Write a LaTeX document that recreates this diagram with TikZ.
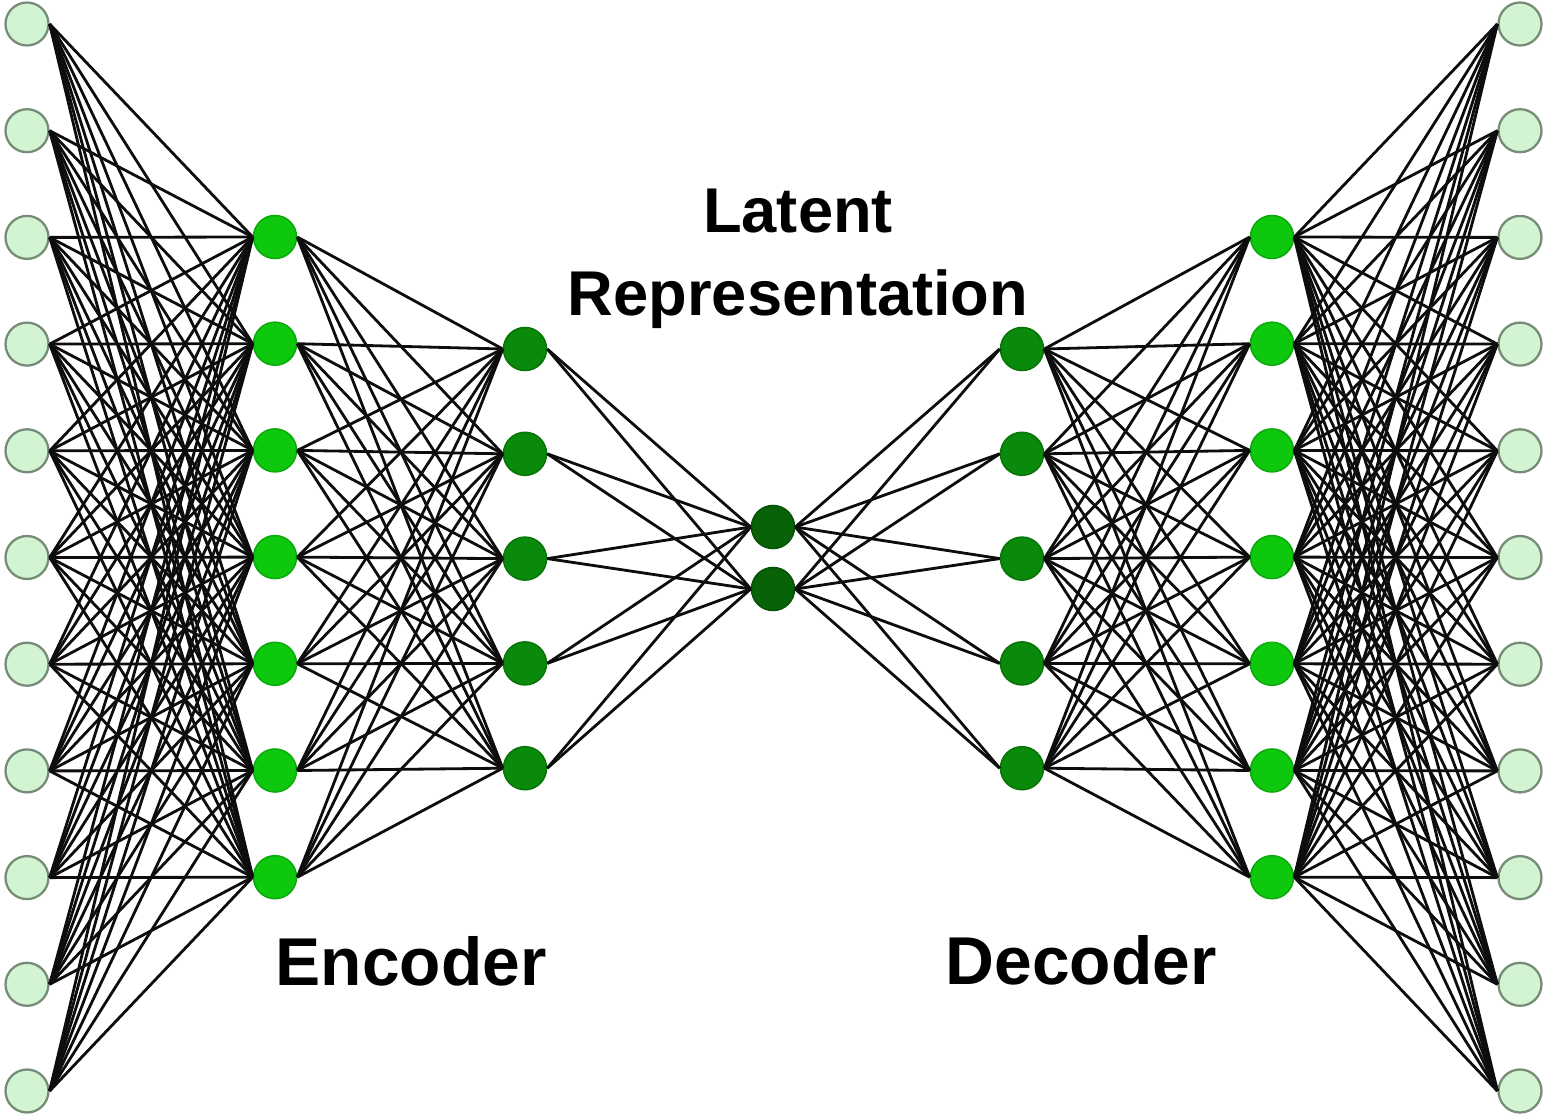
\documentclass[tikz,border=0pt]{standalone}
\usepackage{fontspec}
\setmainfont{Liberation Sans}
\usetikzlibrary{positioning}

\definecolor{inputgreen}{RGB}{210,244,210}
\definecolor{ringgray}{RGB}{118,140,118}
\definecolor{hidgreen}{RGB}{14,200,14}
\definecolor{midgreen}{RGB}{10,138,10}
\definecolor{latgreen}{RGB}{8,98,8}

\begin{document}
\begin{tikzpicture}[x=0.2mm, y=-0.2mm,
    unit/.style={circle, minimum size=8.6mm, inner sep=0pt, line width=0.9pt},
    inunit/.style={unit, draw=ringgray, fill=inputgreen, line width=1.3pt},
    hidunit/.style={unit, draw=hidgreen!85!black, fill=hidgreen},
    midunit/.style={unit, draw=midgreen!85!black, fill=midgreen},
    latunit/.style={unit, draw=latgreen!85!black, fill=latgreen},
    link/.style={line width=1.6pt, black!95},
    title/.style={font=\bfseries\fontsize{36}{43}\selectfont, inner sep=0pt, anchor=base},
    side/.style={font=\bfseries\fontsize{38.5}{46}\selectfont, inner sep=0pt, anchor=base}
]
\useasboundingbox (0,0) rectangle (1550,1120);

% layers
\foreach \i in {1,...,11} {
  \node[inunit] (in\i) at (27, {24+106.7*(\i-1)}) {};
  \node[inunit] (out\i) at (1520, {24+106.7*(\i-1)}) {};
}
\foreach \i in {1,...,7} {
  \node[hidunit] (ea\i) at (275, {237+106.7*(\i-1)}) {};
  \node[hidunit] (da\i) at (1272, {237+106.7*(\i-1)}) {};
}
\foreach \i in {1,...,5} {
  \node[midunit] (eb\i) at (525, {349+104.8*(\i-1)}) {};
  \node[midunit] (db\i) at (1022, {349+104.8*(\i-1)}) {};
}
\node[latunit] (z1) at (773,527) {};
\node[latunit] (z2) at (773,589) {};

% connections
\foreach \i in {1,...,11}
  \foreach \j in {1,...,7} {
    \draw[link] (in\i.east) -- (ea\j.west);
    \draw[link] (da\j.east) -- (out\i.west);
  }
\foreach \i in {1,...,7}
  \foreach \j in {1,...,5} {
    \draw[link] (ea\i.east) -- (eb\j.west);
    \draw[link] (db\j.east) -- (da\i.west);
  }
\foreach \j in {1,...,5}
  \foreach \k in {1,2} {
    \draw[link] (eb\j.east) -- (z\k.west);
    \draw[link] (z\k.east) -- (db\j.west);
  }

% labels
\node[title] (latent) at (798,232) {Latent};
\node[title, below=16.6mm of latent.base, anchor=base] (repr) {Representation};
\node[side] (enc) at (411,985) {Encoder};
\node[side] (dec) at (1081,984) {Decoder};
\end{tikzpicture}
\end{document}
